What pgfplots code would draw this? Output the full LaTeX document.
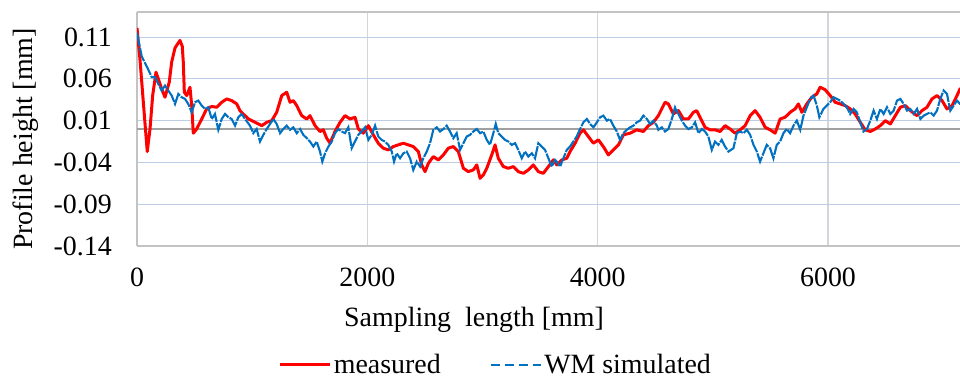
\documentclass[border=0pt]{standalone}
\usepackage{pgfplots}
\pgfplotsset{compat=1.18}
\usepackage{fontspec}
\setmainfont{Liberation Serif}
\definecolor{meas}{RGB}{255,0,0}
\definecolor{wm}{RGB}{0,112,192}
\definecolor{hgrid}{RGB}{190,205,230}
\definecolor{vgrid}{RGB}{212,212,218}
\definecolor{frame}{RGB}{195,195,195}
\definecolor{zeroc}{RGB}{160,160,160}
\begin{document}
\begin{tikzpicture}
\useasboundingbox (0,0) rectangle (960bp,379bp);
\begin{axis}[
  at={(137bp,133bp)}, anchor=south west,
  scale only axis, width=823bp, height=234bp,
  xmin=0, xmax=7146, ymin=-0.14, ymax=0.14,
  axis x line*=box, axis y line*=left,
  axis line style={draw=frame, line width=1.2bp},
  xtick={0,2000,4000,6000},
  xticklabels={0,2000,4000,6000},
  ytick={-0.14,-0.09,-0.04,0.01,0.06,0.11},
  yticklabels={-0.14,-0.09,-0.04,0.01,0.06,0.11},
  major tick length=0pt,
  xmajorgrids, ymajorgrids,
  x grid style={draw=vgrid, line width=1.2bp},
  y grid style={draw=hgrid, line width=1.1bp},
  extra y ticks={0}, extra y tick labels={},
  extra y tick style={ymajorgrids=true, y grid style={draw=zeroc, line width=1.3bp}},
  tick label style={font=\fontsize{28}{32}\selectfont},
  /pgf/number format/assume math mode=true,
  yticklabel style={inner sep=0pt, anchor=east, xshift=-25bp},
  xticklabel style={inner sep=0pt, anchor=north, yshift=-22bp},
  xlabel={Sampling\ \ length [mm]},
  ylabel={Profile height [mm]},
  label style={font=\fontsize{28}{32}\selectfont},
  xlabel style={at={(axis description cs:0.4095,-0.316)}, anchor=center},
  ylabel style={at={(axis description cs:-0.1349,0.457)}, anchor=center},
  legend columns=2,
  legend style={at={(axis description cs:0.436,-0.5085)}, anchor=center,
    draw=none, fill=none, font=\fontsize{28}{32}\selectfont,
    nodes={inner sep=2bp},
    /tikz/every even column/.append style={column sep=48bp}},
  legend image code/.code={\draw[#1] (0bp,0bp) -- (50bp,0bp);},
]
\addplot[meas, line width=3bp, line join=round] coordinates {
(0,0.121) (26,0.083) (55,0.032) (89,-0.027) (113,0.000) (136,0.040) (165,0.068)
(185,0.060) (214,0.048) (243,0.038) (280,0.056) (301,0.080) (330,0.097) (373,0.106)
(393,0.099) (402,0.080) (411,0.044) (432,0.040) (460,0.050) (475,0.028) (489,-0.005)
(518,0.000) (562,0.012) (605,0.024) (649,0.027) (692,0.026) (736,0.032) (779,0.036)
(822,0.034) (866,0.030) (894,0.022) (967,0.012) (1025,0.008) (1083,0.004) (1126,0.008)
(1170,0.010) (1213,0.020) (1257,0.040) (1300,0.044) (1329,0.032) (1357,0.034)
(1387,0.028) (1430,0.016) (1474,0.012) (1502,0.016) (1546,0.004) (1589,-0.003)
(1618,-0.001) (1647,-0.011) (1676,-0.017) (1719,-0.003) (1763,0.008) (1806,0.016)
(1850,0.012) (1893,0.014) (1922,0.000) (1965,-0.005) (2009,0.004) (2052,-0.007)
(2095,-0.017) (2139,-0.023) (2182,-0.025) (2226,-0.021) (2269,-0.019) (2313,-0.017)
(2356,-0.019) (2399,-0.021) (2443,-0.027) (2472,-0.043) (2501,-0.051) (2530,-0.041)
(2573,-0.033) (2616,-0.037) (2660,-0.031) (2703,-0.023) (2747,-0.021) (2790,-0.027)
(2834,-0.047) (2877,-0.051) (2920,-0.049) (2950,-0.043) (2979,-0.059) (3007,-0.055)
(3037,-0.047) (3080,-0.031) (3109,-0.019) (3137,-0.035) (3181,-0.045) (3224,-0.047)
(3268,-0.045) (3311,-0.051) (3355,-0.053) (3398,-0.049) (3441,-0.043) (3485,-0.051)
(3528,-0.053) (3572,-0.045) (3615,-0.037) (3645,-0.043) (3688,-0.037) (3732,-0.035)
(3760,-0.027) (3804,-0.017) (3847,-0.005) (3876,-0.001) (3919,-0.009) (3963,-0.017)
(4006,-0.013) (4049,-0.021) (4093,-0.031) (4136,-0.025) (4180,-0.019) (4223,-0.007)
(4281,-0.005) (4339,-0.001) (4397,-0.003) (4440,0.004) (4484,0.008) (4527,0.016)
(4585,0.032) (4614,0.030) (4657,0.018) (4701,0.022) (4744,0.012) (4788,0.012)
(4831,0.020) (4860,0.022) (4889,0.014) (4932,0.002) (4976,-0.001) (5019,-0.001)
(5063,-0.003) (5106,0.004) (5150,0.000) (5193,-0.005) (5237,-0.001) (5280,0.004)
(5324,0.016) (5367,0.022) (5410,0.014) (5454,0.002) (5497,-0.001) (5541,-0.005)
(5584,0.012) (5627,0.014) (5671,0.020) (5714,0.024) (5743,0.030) (5773,0.020)
(5816,0.030) (5859,0.038) (5903,0.042) (5932,0.050) (5975,0.047) (6019,0.040)
(6062,0.032) (6106,0.030) (6149,0.028) (6193,0.024) (6236,0.018) (6280,0.008)
(6323,-0.001) (6367,-0.003) (6410,0.000) (6454,0.004) (6497,0.010) (6541,0.006)
(6584,0.016) (6628,0.026) (6671,0.028) (6714,0.022) (6773,0.016) (6816,0.022)
(6859,0.026) (6903,0.036) (6946,0.040) (6990,0.034) (7033,0.024) (7077,0.028)
(7120,0.040) (7146,0.048) (7200,0.050)
};
\addlegendentry{measured}
\addplot[wm, line width=2.1bp, dash pattern=on 14bp off 1.2bp, forget plot] coordinates {
(0,0.115) (41,0.087) (69,0.079) (98,0.071) (128,0.062) (156,0.062) (185,0.054)
(214,0.046) (243,0.052) (272,0.046) (301,0.040) (330,0.030) (359,0.042) (388,0.038)
(417,0.036) (445,0.030) (475,0.020) (504,0.032) (532,0.034) (562,0.028) (591,0.024)
(619,0.026) (649,0.012) (677,0.018) (706,-0.001) (736,0.012) (764,0.018) (793,0.014)
(822,0.012) (851,0.004) (880,0.014) (909,0.018) (938,0.012) (981,0.004) (1010,-0.005)
(1039,0.000) (1068,-0.015) (1097,-0.007) (1126,0.000) (1155,0.006) (1184,0.012)
(1213,0.006) (1242,-0.005) (1270,0.000) (1300,0.004) (1329,-0.001) (1357,0.002)
(1387,-0.005) (1416,0.000) (1444,-0.007) (1474,-0.011) (1502,-0.015) (1531,-0.021)
(1560,-0.015) (1589,-0.027) (1609,-0.039) (1633,-0.029) (1662,-0.021) (1691,-0.015)
(1719,-0.005) (1748,0.000) (1777,-0.003) (1806,-0.005) (1835,0.002) (1864,-0.023)
(1893,-0.015) (1922,-0.007) (1951,-0.003) (1980,0.002) (2009,-0.013) (2038,-0.007)
(2067,0.004) (2095,-0.009) (2124,-0.013) (2153,-0.015) (2182,-0.019) (2212,-0.027)
(2232,-0.039) (2255,-0.029) (2284,-0.035) (2313,-0.029) (2342,-0.027) (2371,-0.035)
(2399,-0.049) (2429,-0.039) (2458,-0.045) (2486,-0.035) (2516,-0.027) (2544,-0.017)
(2573,-0.001) (2603,0.002) (2631,-0.003) (2660,0.000) (2689,0.004) (2718,-0.003)
(2747,-0.011) (2776,-0.005) (2805,-0.025) (2834,-0.017) (2863,-0.009) (2892,-0.007)
(2920,-0.003) (2950,0.000) (2979,-0.005) (3007,-0.003) (3037,-0.013) (3065,-0.019)
(3094,-0.005) (3115,0.006) (3137,-0.005) (3167,-0.009) (3196,-0.013) (3224,-0.015)
(3254,-0.019) (3283,-0.017) (3311,-0.025) (3341,-0.035) (3369,-0.027) (3398,-0.033)
(3428,-0.029) (3456,-0.035) (3485,-0.017) (3514,-0.021) (3543,-0.025) (3572,-0.035)
(3601,-0.045) (3630,-0.037) (3645,-0.039) (3674,-0.045) (3702,-0.035) (3732,-0.025)
(3760,-0.021) (3789,-0.015) (3818,-0.009) (3847,0.000) (3876,0.008) (3906,0.012)
(3934,0.006) (3963,0.002) (3993,0.008) (4021,0.014) (4049,0.016) (4080,0.010)
(4107,0.012) (4136,0.004) (4166,-0.003) (4194,-0.013) (4223,-0.005) (4253,-0.001)
(4281,0.002) (4310,0.004) (4339,0.008) (4368,0.010) (4397,0.016) (4427,0.012)
(4455,0.006) (4484,0.010) (4514,0.004) (4527,-0.001) (4557,0.002) (4585,-0.003)
(4614,0.000) (4644,0.012) (4672,0.026) (4701,0.018) (4731,0.010) (4759,0.004)
(4788,0.000) (4818,0.002) (4846,0.008) (4875,-0.005) (4905,0.000) (4932,-0.003)
(4961,-0.009) (4991,-0.025) (5019,-0.015) (5048,-0.019) (5077,-0.013) (5106,-0.021)
(5135,-0.027) (5179,-0.023) (5208,-0.005) (5237,-0.003) (5266,-0.005) (5295,-0.001)
(5324,-0.007) (5353,-0.019) (5382,-0.027) (5410,-0.039) (5439,-0.029) (5468,-0.019)
(5497,-0.023) (5526,-0.035) (5555,-0.019) (5584,-0.015) (5613,-0.005) (5642,0.000)
(5671,-0.005) (5700,0.004) (5729,0.010) (5759,-0.001) (5787,0.016) (5816,0.026)
(5845,0.036) (5874,0.040) (5903,0.028) (5925,0.014) (5960,0.024) (5990,0.028)
(6019,0.032) (6047,0.038) (6076,0.036) (6106,0.034) (6134,0.030) (6163,0.026)
(6193,0.018) (6221,0.024) (6250,0.020) (6280,0.008) (6308,-0.003) (6338,0.000)
(6367,0.010) (6396,0.022) (6425,0.012) (6454,0.024) (6483,0.018) (6512,0.026)
(6541,0.018) (6570,0.022) (6599,0.034) (6628,0.036) (6657,0.030) (6686,0.022)
(6714,0.024) (6744,0.018) (6773,0.024) (6802,0.012) (6831,0.016) (6859,0.018)
(6888,0.020) (6917,0.016) (6946,0.022) (6975,0.036) (7004,0.046) (7033,0.042)
(7062,0.022) (7091,0.028) (7120,0.034) (7146,0.030) (7200,0.032)
};
\addlegendimage{wm, line width=1.6bp, dash pattern=on 9bp off 5bp}
\addlegendentry{WM simulated}
\end{axis}
\end{tikzpicture}
\end{document}
